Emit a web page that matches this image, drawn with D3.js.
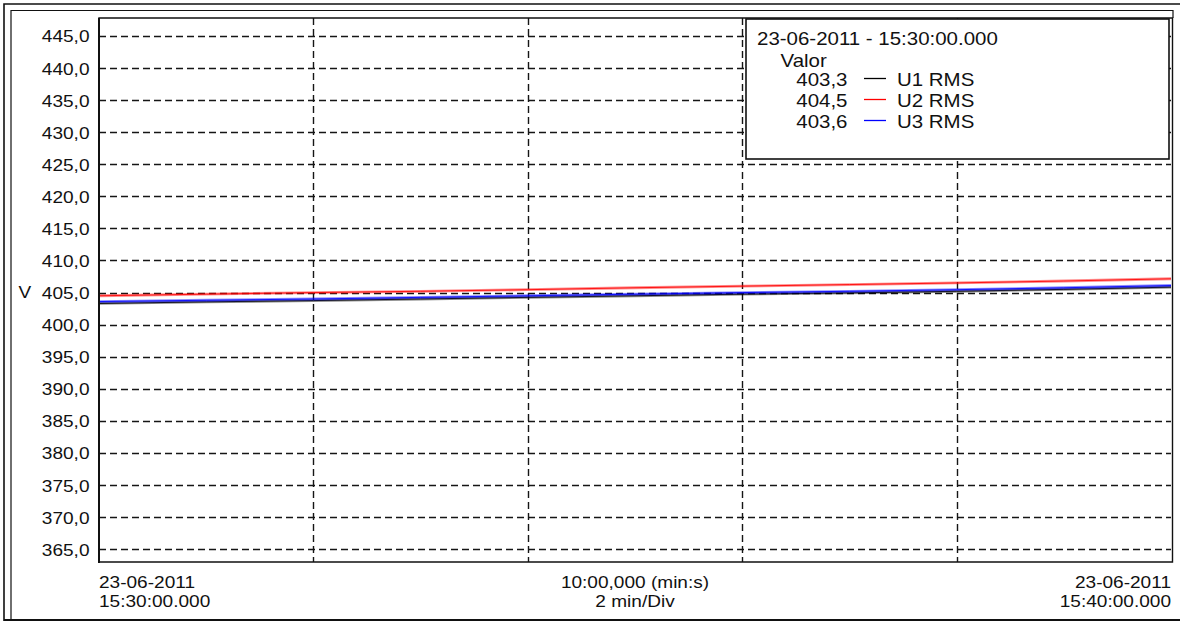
<!DOCTYPE html>
<html>
<head>
<meta charset="utf-8">
<script src="https://cdn.jsdelivr.net/npm/d3@7"></script>
<style>
  html, body { margin: 0; padding: 0; background: #fff; }
  svg { display: block; }
  text { font-family: "Liberation Sans", Arial, sans-serif; fill: #111; }
</style>
</head>
<body>
<svg id="chart" width="1180" height="623"></svg>
<script>
// Minutes since 15:30:00.000
const minutes = [0, 1, 2, 3, 4, 5, 6, 7, 8, 9, 10];
const u1 = [403.3, 403.55, 403.75, 404.0, 404.25, 404.5, 404.75, 404.95, 405.2, 405.5, 405.85];
const u2 = [404.5, 404.75, 405.0, 405.2, 405.45, 405.75, 406.0, 406.25, 406.5, 406.8, 407.15];
const u3 = [403.6, 403.8, 404.0, 404.25, 404.5, 404.75, 405.0, 405.2, 405.45, 405.75, 406.1];
const seriesNames = ["U1 RMS", "U2 RMS", "U3 RMS"];
const seriesColors = ["#000000", "#ff0000", "#0000ff"];
const legendValues = ["403,3", "404,5", "403,6"];
const yTicks = [365, 370, 375, 380, 385, 390, 395, 400, 405, 410, 415, 420, 425, 430, 435, 440, 445];
const xTicks = [0, 2, 4, 6, 8, 10];
const legendTitle = "23-06-2011 - 15:30:00.000";
const startLabel = ["23-06-2011", "15:30:00.000"];
const endLabel = ["23-06-2011", "15:40:00.000"];
const midLabel = ["10:00,000 (min:s)", "2 min/Div"];

const svg = d3.select("#chart");
const plot = { left: 99, top: 18, right: 1171, bottom: 562 };
const SX = 1.17; // horizontal stretch of the lettering

const x = d3.scaleLinear().domain([0, 10]).range([plot.left, plot.right]);
const y = d3.scaleLinear().domain([363, 447.8]).range([plot.bottom, plot.top]);

// outer double frame
const frame = svg.append("g").attr("fill", "none").attr("stroke", "#111");
frame.append("path").attr("stroke-width", 1.6).attr("d", "M4,621 V4 H1180");
frame.append("path").attr("stroke-width", 1.2).attr("d", "M11,621 V10.5 H1173 V18");
frame.append("line").attr("stroke-width", 2.2).attr("x1", 4).attr("x2", 1180).attr("y1", 620).attr("y2", 620);

// grid
const grid = svg.append("g").attr("stroke", "#151515").attr("stroke-width", 1.4).attr("stroke-dasharray", "7,4");
grid.selectAll("line.h").data(yTicks).join("line")
  .attr("x1", plot.left).attr("x2", plot.right)
  .attr("y1", d => Math.round(y(d)) + 0.5).attr("y2", d => Math.round(y(d)) + 0.5);
grid.selectAll("line.v").data(xTicks.slice(1, -1)).join("line")
  .attr("x1", d => Math.round(x(d)) + 0.5).attr("x2", d => Math.round(x(d)) + 0.5)
  .attr("y1", plot.top).attr("y2", plot.bottom);

// y axis labels
const yAxis = d3.axisLeft(y).tickValues(yTicks).tickSize(0).tickPadding(0)
  .tickFormat(d => d3.format(".1f")(d).replace(".", ","));
const ya = svg.append("g").attr("transform", `translate(${89.5},0)`).call(yAxis);
ya.select(".domain").remove();
ya.selectAll(".tick text").each(function () {
  const t = d3.select(this);
  t.attr("x", null).attr("dy", null).attr("y", 6)
   .attr("transform", `scale(${SX},1)`)
   .attr("font-size", 16.3).attr("fill", "#111")
   .style("font-family", "'Liberation Sans', Arial, sans-serif");
});

svg.append("text").attr("transform", `translate(18.5,${y(405) + 5}) scale(${SX},1)`)
  .attr("font-size", 16.3).text("V");

// series lines
const line = d3.line().x((d, i) => x(minutes[i])).y(d => y(d));
const order = [0, 2, 1];
const seriesData = [u1, u2, u3];
const lines = svg.append("g").attr("fill", "none");
order.forEach(k => {
  lines.append("path").datum(seriesData[k])
    .attr("stroke", seriesColors[k]).attr("stroke-opacity", 0.45)
    .attr("stroke-width", 2.8).attr("d", line);
  lines.append("path").datum(seriesData[k])
    .attr("stroke", seriesColors[k]).attr("stroke-opacity", 0.85)
    .attr("stroke-width", 1).attr("d", line);
});

// plot border
svg.append("path").attr("fill", "none").attr("stroke", "#111").attr("stroke-width", 1.4)
  .attr("d", `M${plot.left},${plot.top} H1172.5 V${plot.bottom} H${plot.left} Z`);
svg.append("line").attr("stroke", "#111").attr("stroke-width", 2)
  .attr("x1", plot.left).attr("x2", plot.left).attr("y1", plot.top).attr("y2", plot.bottom + 1);

// bottom labels
function stretchedText(g, tx, ty, anchor, txt, size) {
  g.append("text").attr("transform", `translate(${tx},${ty}) scale(${SX},1)`)
    .attr("text-anchor", anchor).attr("font-size", size).text(txt);
}
const bottom = svg.append("g");
startLabel.forEach((t, i) => stretchedText(bottom, x(0), 588 + i * 19, "start", t, 16.3));
midLabel.forEach((t, i) => stretchedText(bottom, x(5), 588 + i * 19, "middle", t, 16.3));
endLabel.forEach((t, i) => stretchedText(bottom, x(10), 588 + i * 19, "end", t, 16.3));

// legend
const lg = svg.append("g");
lg.append("rect").attr("x", 746).attr("y", 19).attr("width", 423).attr("height", 140)
  .attr("fill", "#fff").attr("stroke", "#111").attr("stroke-width", 1.6);
stretchedText(lg, 757, 45, "start", legendTitle, 17.5);
stretchedText(lg, 780.5, 67, "start", "Valor", 17.5);
seriesNames.forEach((name, i) => {
  const by = 86 + i * 21;
  stretchedText(lg, 847.5, by, "end", legendValues[i], 17.5);
  lg.append("line").attr("x1", 864).attr("x2", 886).attr("y1", by - 7.5).attr("y2", by - 7.5)
    .attr("stroke", seriesColors[i]).attr("stroke-width", 1.3);
  stretchedText(lg, 897, by, "start", name, 17.5);
});
</script>
</body>
</html>
